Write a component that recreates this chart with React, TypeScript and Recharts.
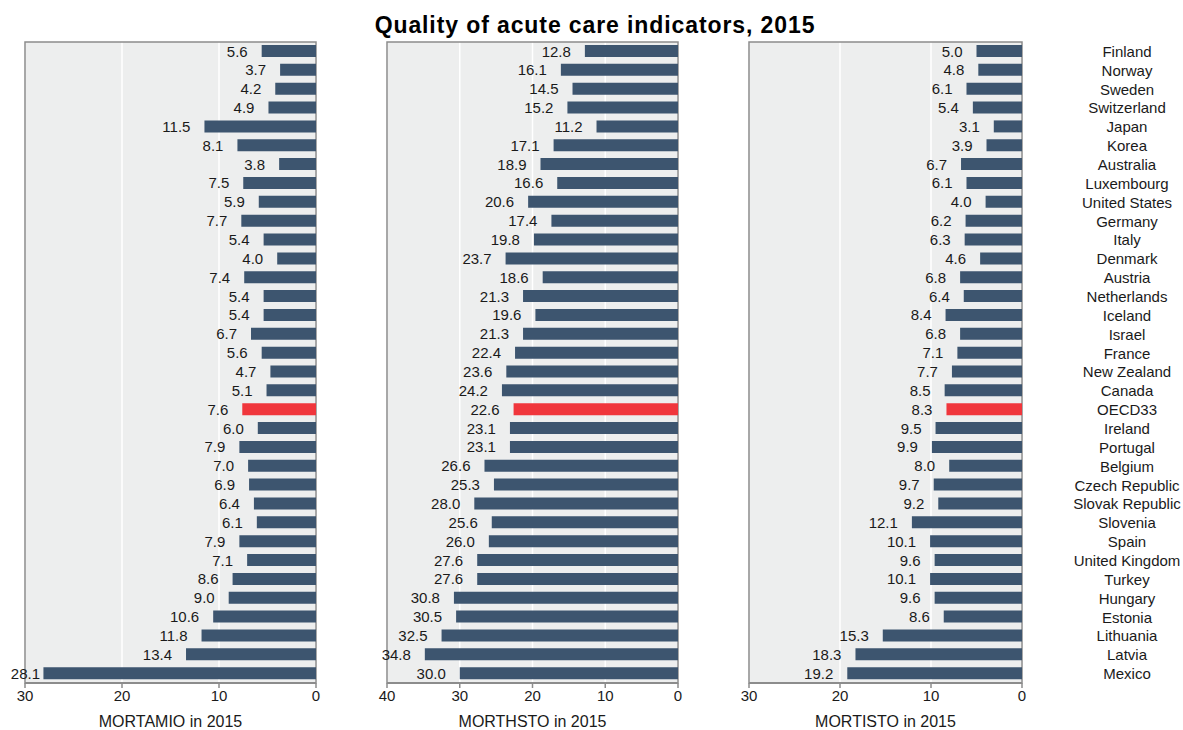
import React from 'react'
import { BarChart, Bar, XAxis, YAxis, CartesianGrid, ReferenceArea, LabelList, Cell } from 'recharts'

const countries = [
    'Finland', 'Norway', 'Sweden', 'Switzerland', 'Japan', 'Korea', 'Australia', 'Luxembourg',
    'United States', 'Germany', 'Italy', 'Denmark', 'Austria', 'Netherlands', 'Iceland', 'Israel',
    'France', 'New Zealand', 'Canada', 'OECD33', 'Ireland', 'Portugal', 'Belgium', 'Czech Republic',
    'Slovak Republic', 'Slovenia', 'Spain', 'United Kingdom', 'Turkey', 'Hungary', 'Estonia',
    'Lithuania', 'Latvia', 'Mexico',
]

const mortamio = [
    5.6, 3.7, 4.2, 4.9, 11.5, 8.1, 3.8, 7.5, 5.9, 7.7, 5.4, 4.0, 7.4, 5.4, 5.4, 6.7, 5.6, 4.7, 5.1,
    7.6, 6.0, 7.9, 7.0, 6.9, 6.4, 6.1, 7.9, 7.1, 8.6, 9.0, 10.6, 11.8, 13.4, 28.1,
]

const morthsto = [
    12.8, 16.1, 14.5, 15.2, 11.2, 17.1, 18.9, 16.6, 20.6, 17.4, 19.8, 23.7, 18.6, 21.3, 19.6, 21.3,
    22.4, 23.6, 24.2, 22.6, 23.1, 23.1, 26.6, 25.3, 28.0, 25.6, 26.0, 27.6, 27.6, 30.8, 30.5, 32.5,
    34.8, 30.0,
]

const mortisto = [
    5.0, 4.8, 6.1, 5.4, 3.1, 3.9, 6.7, 6.1, 4.0, 6.2, 6.3, 4.6, 6.8, 6.4, 8.4, 6.8, 7.1, 7.7, 8.5,
    8.3, 9.5, 9.9, 8.0, 9.7, 9.2, 12.1, 10.1, 9.6, 10.1, 9.6, 8.6, 15.3, 18.3, 19.2,
]

const ticks30 = [0, 10, 20, 30]
const ticks40 = [0, 10, 20, 30, 40]

const data = countries.map((country, i) => ({
    country,
    amio: mortamio[i],
    hsto: morthsto[i],
    isto: mortisto[i],
}))

const FONT = '"Liberation Sans", Arial, sans-serif'
const BLUE = '#3D556F'
const RED = '#F0363C'
const FRAME = '#8C8C8C'
const INK = '#1a1a1a'

function ValueLabel(props: any) {
    const { x, y, width, height, value } = props
    const left = Math.min(x, x + width)
    return (
        <text x={Math.max(left - 14, 40)} y={y + height / 2} textAnchor="end" dominantBaseline="central"
            fontSize={15} fontFamily={FONT} fill={INK}>
            {Number(value).toFixed(1)}
        </text>
    )
}

function CountryTick(props: any) {
    const { y, payload } = props
    return (
        <text x={425} y={y} textAnchor="middle" dominantBaseline="central" fontSize={15}
            fontFamily={FONT} fill={INK}>
            {payload.value}
        </text>
    )
}

type PanelProps = {
    dataKey: string
    max: number
    ticks: number[]
    title: string
    left: number
    width: number
    marginLeft: number
    marginRight: number
    countriesAxis?: boolean
}

function Panel({ dataKey, max, ticks, title, left, width, marginLeft, marginRight, countriesAxis }: PanelProps) {
    return (
        <div style={{ position: 'absolute', left, top: 0 }}>
            <BarChart width={width} height={730} data={data} layout="vertical" barSize={12}
                margin={{ top: 42, right: countriesAxis ? 0 : marginRight, bottom: 0, left: marginLeft }}>
                <CartesianGrid horizontal={false} vertical stroke="#ffffff" strokeWidth={1.5}
                    fill="#EDEEEE" fillOpacity={1} />
                <XAxis type="number" domain={[0, max]} ticks={ticks} reversed height={47}
                    axisLine={{ stroke: FRAME, strokeWidth: 2 }} tickLine={{ stroke: FRAME, strokeWidth: 1.5 }}
                    tickSize={5} tick={{ fontSize: 15, fill: INK, fontFamily: FONT }}
                    label={{ value: title, position: 'insideBottom', offset: 3, fontSize: 16, fill: INK, fontFamily: FONT }} />
                {countriesAxis ? (
                    <YAxis type="category" dataKey="country" orientation="right" width={marginRight}
                        axisLine={false} tickLine={false} interval={0} tick={<CountryTick />} />
                ) : (
                    <YAxis type="category" dataKey="country" hide width={0} />
                )}
                <ReferenceArea x1={0} x2={max} fill="none" stroke={FRAME} strokeWidth={1.5} />
                <Bar dataKey={dataKey} isAnimationActive={false}>
                    {data.map((d) => (
                        <Cell key={d.country} fill={d.country === 'OECD33' ? RED : BLUE} />
                    ))}
                    <LabelList dataKey={dataKey} content={<ValueLabel />} />
                </Bar>
            </BarChart>
        </div>
    )
}

export default function App() {
    return (
        <div style={{ position: 'absolute', left: 0, top: 0, width: 1183, height: 730, background: '#fff', fontFamily: FONT }}>
            <div style={{ position: 'absolute', left: 295, top: 11, width: 600, textAlign: 'center',
                fontSize: 23, lineHeight: '28px', fontWeight: 'bold', letterSpacing: '0.9px', color: '#000' }}>
                Quality of acute care indicators, 2015
            </div>
            <Panel dataKey="amio" max={30} ticks={ticks30} title="MORTAMIO in 2015"
                left={0} width={340} marginLeft={25} marginRight={24} />
            <Panel dataKey="hsto" max={40} ticks={ticks40} title="MORTHSTO in 2015"
                left={340} width={362} marginLeft={47} marginRight={24} />
            <Panel dataKey="isto" max={30} ticks={ticks30} title="MORTISTO in 2015"
                left={702} width={481} marginLeft={47} marginRight={161} countriesAxis />
        </div>
    )
}
